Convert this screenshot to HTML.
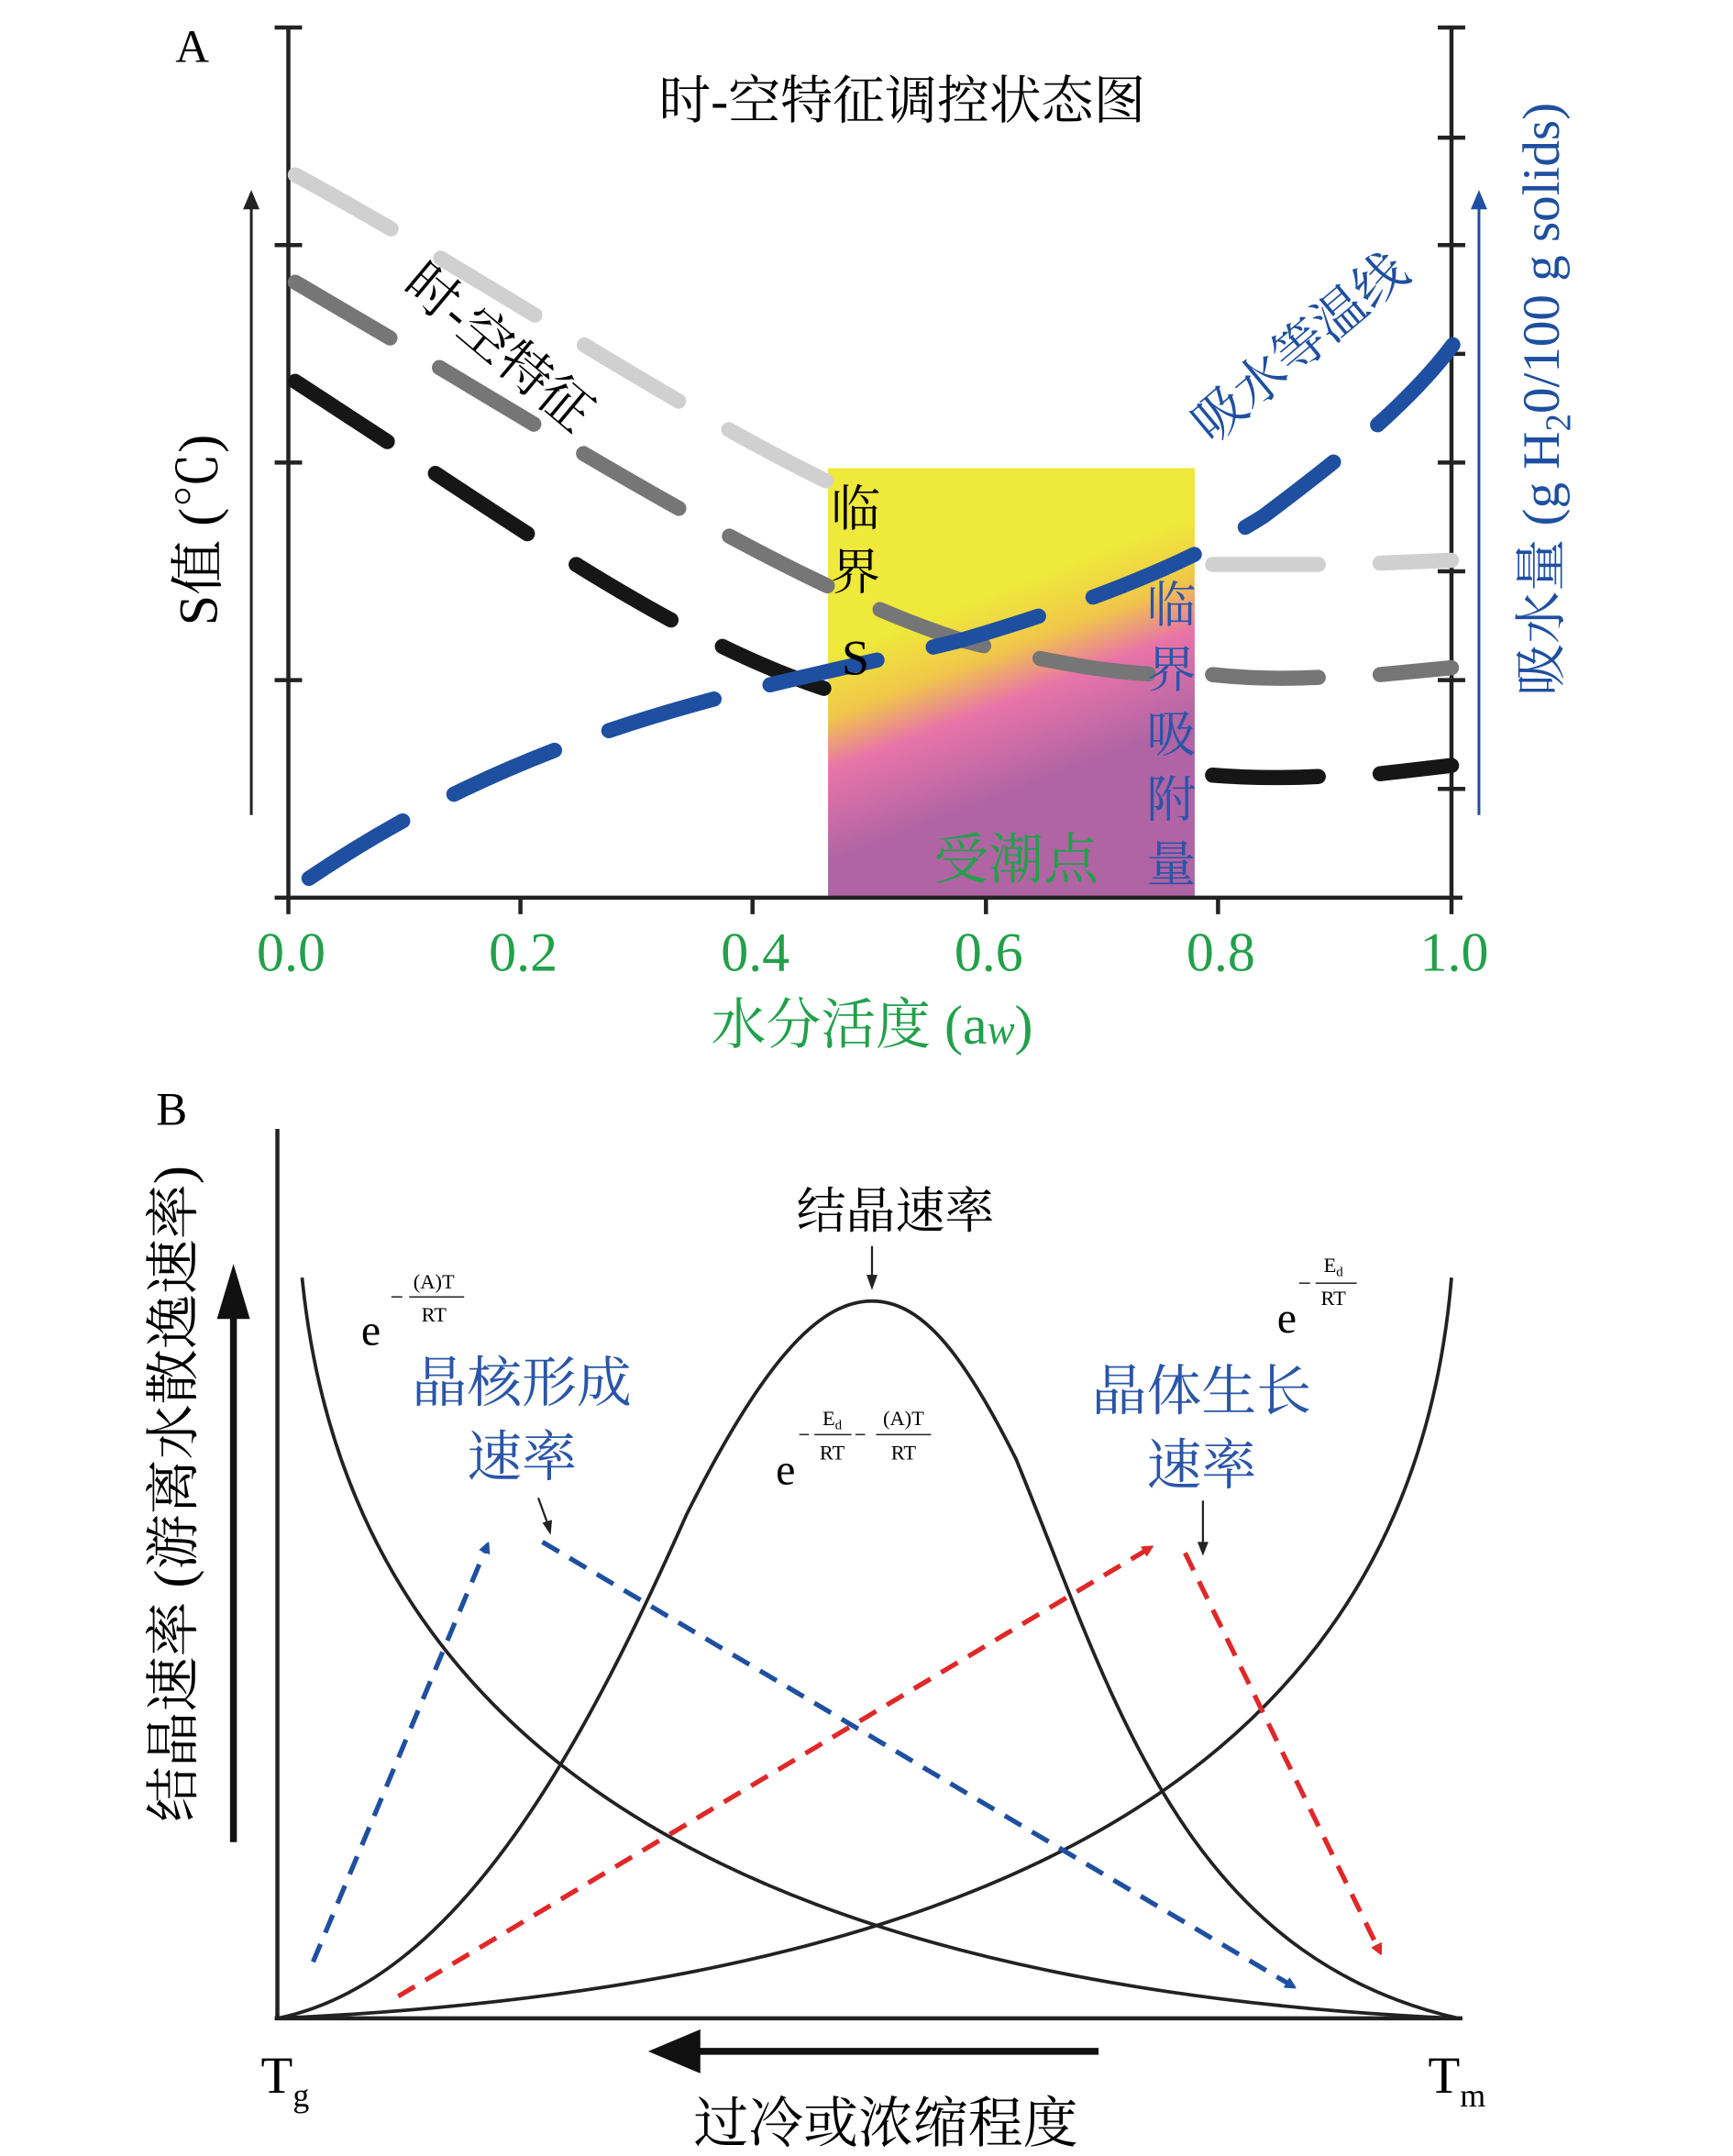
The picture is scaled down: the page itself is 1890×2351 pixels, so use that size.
<!DOCTYPE html>
<html><head><meta charset="utf-8"><style>
html,body{margin:0;padding:0;background:#fff;}
svg{display:block;}
text{font-family:"Liberation Serif","Noto Serif CJK SC",serif;}
</style></head><body>
<svg width="1890" height="2351" viewBox="0 0 1262 1566" preserveAspectRatio="none" xmlns="http://www.w3.org/2000/svg">
<defs>
<linearGradient id="g" gradientUnits="userSpaceOnUse" x1="700" y1="440" x2="750" y2="570">
<stop offset="0" stop-color="#eee93a"/>
<stop offset="0.3" stop-color="#f0c64a"/>
<stop offset="0.55" stop-color="#e874a8"/>
<stop offset="1" stop-color="#b064a4"/>
</linearGradient>
<marker id="ab" markerWidth="8" markerHeight="8" refX="6" refY="4" orient="auto" markerUnits="userSpaceOnUse"><path d="M0,0 L8,4 L0,8 Z" fill="#1e4fa0" transform="scale(1.6) translate(-2.5,-1.5)"/></marker>
<marker id="ar" markerWidth="8" markerHeight="8" refX="6" refY="4" orient="auto" markerUnits="userSpaceOnUse"><path d="M0,0 L8,4 L0,8 Z" fill="#e02828" transform="scale(1.6) translate(-2.5,-1.5)"/></marker>
</defs>

<!-- Panel A -->
<text x="140" y="45" font-size="34" text-anchor="middle">A</text>
<rect x="603" y="340" width="267" height="311" fill="url(#g)"/>
<g stroke="#222" stroke-width="3" fill="none">
<line x1="210" y1="20" x2="210" y2="652"/>
<line x1="1057" y1="20" x2="1057" y2="652"/>
<line x1="200" y1="652" x2="1065" y2="652"/>
<path d="M200,20H220M200,178H220M200,336H220M200,494H220"/>
<path d="M1047,20H1067M1047,100H1067M1047,178H1067M1047,257H1067M1047,336H1067M1047,415H1067M1047,494H1067M1047,573H1067"/>
<path d="M210,652V664M379,652V664M548,652V664M718,652V664M887,652V664M1057,652V664"/>
</g>
<text x="657" y="86" font-size="38" text-anchor="middle">时-空特征调控状态图</text>
<line x1="183" y1="592" x2="183" y2="148" stroke="#222" stroke-width="2"/>
<path d="M177,152 L183,138 L189,152 Z" fill="#222"/>
<line x1="1077" y1="592" x2="1077" y2="148" stroke="#1e4fa0" stroke-width="2"/>
<path d="M1071,152 L1077,138 L1083,152 Z" fill="#1e4fa0"/>
<text transform="translate(158,385) rotate(-90)" font-size="40" text-anchor="middle">S值 (℃)</text>
<text transform="translate(1135,290) rotate(-90)" font-size="38" text-anchor="middle" fill="#1e4fa0">吸水量 (g H<tspan font-size="26" dy="8">2</tspan><tspan dy="-8">0/100 g solids)</tspan></text>

<g fill="none" stroke-linecap="round" stroke-width="11" stroke-dasharray="80,42">
<path d="M215,127 C350,200 480,290 603,350" stroke="#d0d0d0"/>
<path d="M215,205 C380,300 560,420 700,465 C760,480 810,490 855,490" stroke="#767676"/>
<path d="M215,277 C360,370 480,460 600,500" stroke="#161616"/>
</g>
<g fill="none" stroke-linecap="round" stroke-width="11">
<path d="M883,410 H960 M1005,409 L1057,407" stroke="#d0d0d0"/>
<path d="M883,490 Q920,494 960,492 M1005,490 L1057,485" stroke="#767676"/>
<path d="M883,563 Q920,566 960,564 M1005,562 L1057,556" stroke="#161616"/>
</g>
<path d="M225,638 C400,520 560,500 700,465 C820,430 880,400 920,375 C980,330 1030,290 1062,245" fill="none" stroke="#1e4fa0" stroke-width="11" stroke-linecap="round" stroke-dasharray="80,42"/>

<text transform="translate(355,262) rotate(40)" font-size="38" text-anchor="middle">时-空特征</text>
<text transform="translate(955,262) rotate(-40)" font-size="38" text-anchor="middle" fill="#1e4fa0">吸水等温线</text>
<g font-size="36" text-anchor="middle">
<text x="623" y="382">临</text><text x="623" y="428">界</text><text x="623" y="490">S</text>
</g>
<g font-size="36" text-anchor="middle" fill="#2a55a8">
<text x="853" y="452">临</text><text x="853" y="499">界</text><text x="853" y="546">吸</text><text x="853" y="593">附</text><text x="853" y="640">量</text>
</g>
<text x="740" y="638" font-size="40" text-anchor="middle" fill="#22a04a">受潮点</text>
<g font-size="40" text-anchor="middle" fill="#22a04a">
<text x="212" y="705">0.0</text><text x="381" y="705">0.2</text><text x="550" y="705">0.4</text><text x="720" y="705">0.6</text><text x="889" y="705">0.8</text><text x="1059" y="705">1.0</text>
<text x="635" y="758">水分活度 (a<tspan font-style="italic" font-size="30">w</tspan>)</text>
</g>

<!-- Panel B -->
<text x="125" y="817" font-size="34" text-anchor="middle">B</text>
<g stroke="#222" stroke-width="3" fill="none">
<line x1="202" y1="820" x2="202" y2="1467"/>
<line x1="200" y1="1466" x2="1065" y2="1466"/>
</g>
<line x1="170" y1="1338" x2="170" y2="950" stroke="#111" stroke-width="5"/>
<path d="M158,958 L170,918 L182,958 Z" fill="#111"/>
<text transform="translate(140,1085) rotate(-90)" font-size="40" text-anchor="middle">结晶速率 (游离水散逸速率)</text>

<g fill="none" stroke="#222" stroke-width="2.5">
<path d="M220,928 C250,1230 480,1440 1060,1466"/>
<path d="M202,1466 C780,1440 1030,1250 1057,928"/>
<path d="M202,1466 C330,1440 420,1280 500,1100 C560,980 600,945 635,945 C670,945 700,980 740,1060 C810,1230 860,1420 1062,1466"/>
</g>
<text x="652" y="892" font-size="36" text-anchor="middle">结晶速率</text>
<line x1="635" y1="905" x2="635" y2="932" stroke="#222" stroke-width="1.5"/>
<path d="M631,926 L635,937 L639,926 Z" fill="#222"/>

<g font-size="32"><text x="263" y="977">e</text><text x="565" y="1078">e</text><text x="930" y="968">e</text></g>
<g font-size="15" text-anchor="middle">
<text x="316" y="936">(A)T</text><text x="316" y="960">RT</text>
<line x1="298" y1="942" x2="338" y2="942" stroke="#222"/><line x1="285" y1="942" x2="293" y2="942" stroke="#222"/>
<text x="606" y="1035">E<tspan font-size="10" dy="3">d</tspan></text><text x="606" y="1060">RT</text>
<line x1="593" y1="1042" x2="620" y2="1042" stroke="#222"/><line x1="582" y1="1042" x2="589" y2="1042" stroke="#222"/><line x1="623" y1="1042" x2="630" y2="1042" stroke="#222"/>
<text x="658" y="1035">(A)T</text><text x="658" y="1060">RT</text>
<line x1="638" y1="1042" x2="678" y2="1042" stroke="#222"/>
<text x="971" y="924">E<tspan font-size="10" dy="3">d</tspan></text><text x="971" y="948">RT</text>
<line x1="958" y1="932" x2="988" y2="932" stroke="#222"/><line x1="946" y1="932" x2="954" y2="932" stroke="#222"/>
</g>
<g font-size="40" text-anchor="middle" fill="#2a55a8">
<text x="380" y="1018">晶核形成</text><text x="380" y="1072">速率</text>
<text x="875" y="1024">晶体生长</text><text x="875" y="1078">速率</text>
</g>
<line x1="392" y1="1088" x2="400" y2="1110" stroke="#222" stroke-width="1.5"/>
<path d="M395,1106 L401,1115 L402,1104 Z" fill="#222"/>
<line x1="876" y1="1090" x2="876" y2="1124" stroke="#222" stroke-width="1.5"/>
<path d="M872,1120 L876,1130 L880,1120 Z" fill="#222"/>

<g fill="none" stroke-width="3.5" stroke-dasharray="14,9">
<path d="M228,1425 L355,1122" stroke="#1e4fa0" marker-end="url(#ab)"/>
<path d="M395,1120 L942,1443" stroke="#1e4fa0" marker-end="url(#ab)"/>
<path d="M290,1450 L838,1124" stroke="#e02828" marker-end="url(#ar)"/>
<path d="M863,1128 L1005,1418" stroke="#e02828" marker-end="url(#ar)"/>
</g>

<line x1="800" y1="1490" x2="505" y2="1490" stroke="#111" stroke-width="5"/>
<path d="M510,1474 L472,1490 L510,1506 Z" fill="#111"/>
<text x="190" y="1520" font-size="38">T<tspan font-size="24" dy="10">g</tspan></text>
<text x="1040" y="1520" font-size="38">T<tspan font-size="24" dy="10">m</tspan></text>
<text x="645" y="1556" font-size="40" text-anchor="middle">过冷或浓缩程度</text>
</svg>
</body></html>
